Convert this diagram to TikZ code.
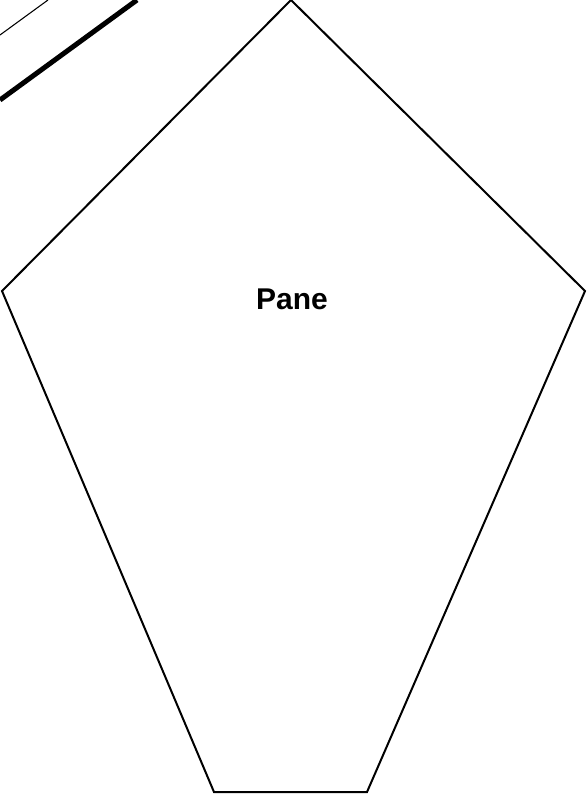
\documentclass[tikz,border=0pt]{standalone}
\usepackage{fontspec}
\setmainfont{Liberation Sans}
\usetikzlibrary{positioning}
\tikzset{
    outline/.style={draw, line width=1.5pt, line join=miter},
    thinrule/.style={draw, line width=0.8pt},
    thickrule/.style={draw, line width=3.75pt},
}

\begin{document}
\begin{tikzpicture}[x=0.75pt, y=-0.75pt]
    \useasboundingbox (0,0) rectangle (588,795);
    % pane outline
    \coordinate (top) at (291,0);
    \coordinate (right) at (585,291);
    \coordinate (br) at (367,792);
    \coordinate (bl) at (214,792);
    \coordinate (left) at (2,291);
    \draw[outline] (top) -- (right) -- (br) -- (bl) -- (left) -- cycle;
    \node[font=\bfseries\fontsize{22.5pt}{27pt}\selectfont] (pane) at (292,299) {Pane};
    % rules at the corner
    \coordinate (t1) at (0,35);
    \coordinate (t2) at (48,0);
    \coordinate (k1) at (0,100);
    \coordinate (k2) at (137,0);
    \draw[thinrule] (t1) -- (t2);
    \draw[thickrule] (k1) -- (k2);
\end{tikzpicture}
\end{document}
